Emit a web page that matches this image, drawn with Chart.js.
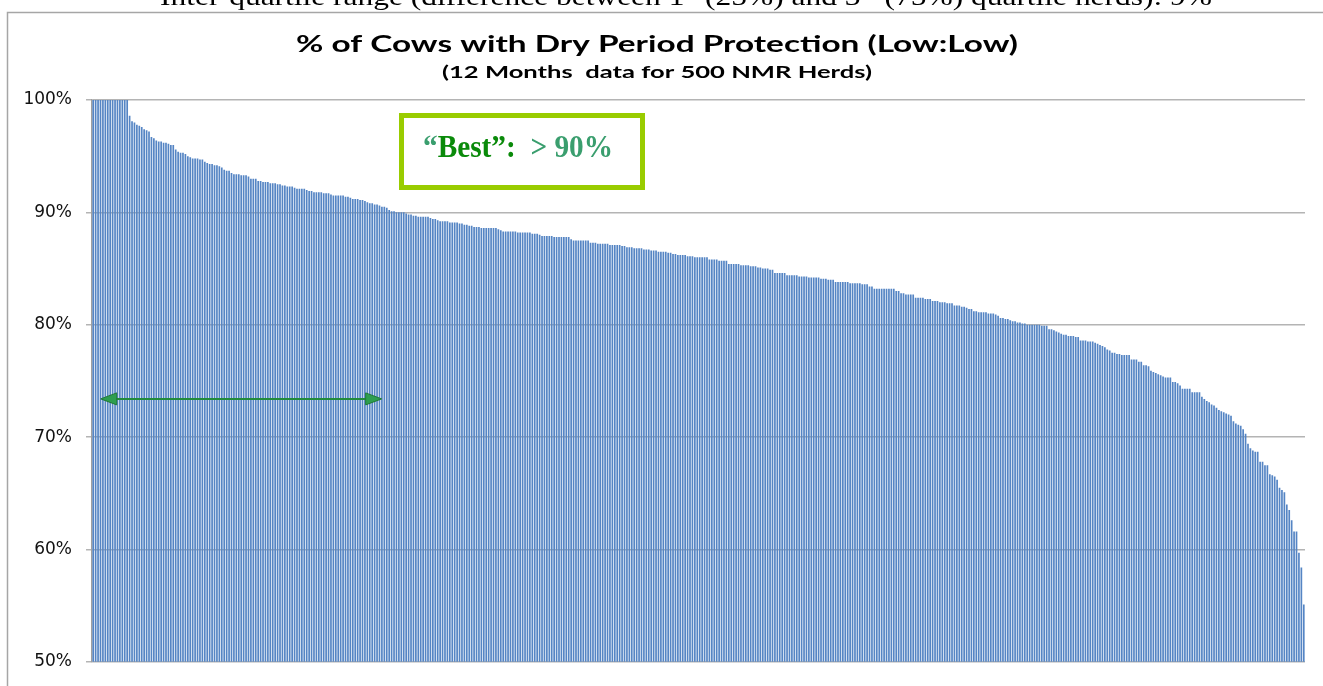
<!DOCTYPE html>
<html>
<head>
<meta charset="utf-8">
<script src="https://cdn.jsdelivr.net/npm/chart.js@4.4.1/dist/chart.umd.min.js"></script>
<style>
  html, body { margin: 0; padding: 0; background: #fff; }
  #wrap { width: 1323px; height: 686px; }
</style>
</head>
<body>
<div id="wrap"><canvas id="herdCanvas" width="1323" height="686"></canvas></div>
<script>
// text
const topNote = [
  { t: "Inter-quartile range (difference between 1" },
  { t: "st", sup: true },
  { t: " (25%) and 3" },
  { t: "rd", sup: true },
  { t: " (75%) quartile herds): 9%" }
];
const chartTitle = "% of Cows with Dry Period Protection (Low:Low)";
const chartSubtitle = "(12 Months  data for 500 NMR Herds)";
const bestQuote = "\u201CBest\u201D:";
const bestValue = "  > 90%";

// y axis
const yTickValues = [50, 60, 70, 80, 90, 100];
const yTickLabels = ["50%", "60%", "70%", "80%", "90%", "100%"];

// % of cows with dry period protection, herds sorted high -> low
const protectionPct = [
  100,100,100,100,100,100,100,100,100,100,
  100,100,100,100,100,98.6,98.1,98.0,97.8,97.7,
  97.6,97.4,97.3,97.2,96.7,96.6,96.4,96.3,96.3,96.2,
  96.2,96.1,96.0,96.0,95.6,95.4,95.3,95.3,95.2,95.0,
  94.9,94.8,94.8,94.8,94.7,94.7,94.5,94.4,94.3,94.3,
  94.2,94.2,94.1,94.0,93.8,93.7,93.7,93.5,93.4,93.4,
  93.4,93.3,93.3,93.3,93.2,93.0,93.0,93.0,92.8,92.8,
  92.7,92.7,92.7,92.6,92.6,92.6,92.5,92.5,92.4,92.4,
  92.3,92.3,92.3,92.2,92.1,92.1,92.1,92.1,92.0,91.9,
  91.9,91.8,91.8,91.8,91.8,91.7,91.7,91.7,91.6,91.5,
  91.5,91.5,91.5,91.5,91.4,91.4,91.3,91.2,91.2,91.2,
  91.1,91.1,91.0,90.9,90.8,90.8,90.7,90.7,90.6,90.5,
  90.5,90.4,90.2,90.1,90.1,90.0,90.0,90.0,90.0,89.9,
  89.8,89.8,89.7,89.7,89.6,89.6,89.6,89.6,89.6,89.5,
  89.4,89.4,89.3,89.2,89.2,89.2,89.2,89.1,89.1,89.1,
  89.1,89.0,89.0,88.9,88.9,88.8,88.8,88.7,88.7,88.7,
  88.6,88.6,88.6,88.6,88.6,88.6,88.6,88.5,88.4,88.3,
  88.3,88.3,88.3,88.3,88.3,88.2,88.2,88.2,88.2,88.2,
  88.2,88.1,88.1,88.1,88.0,87.9,87.9,87.9,87.9,87.9,
  87.8,87.8,87.8,87.8,87.8,87.8,87.8,87.6,87.5,87.5,
  87.5,87.5,87.5,87.5,87.5,87.3,87.3,87.3,87.2,87.2,
  87.2,87.2,87.2,87.1,87.1,87.1,87.1,87.1,87.0,87.0,
  86.9,86.9,86.9,86.8,86.8,86.8,86.8,86.7,86.7,86.7,
  86.6,86.6,86.6,86.5,86.5,86.5,86.5,86.4,86.4,86.3,
  86.3,86.2,86.2,86.2,86.2,86.1,86.1,86.1,86.0,86.0,
  86.0,86.0,86.0,86.0,85.8,85.8,85.8,85.8,85.7,85.7,
  85.7,85.7,85.4,85.4,85.4,85.4,85.4,85.3,85.3,85.3,
  85.3,85.2,85.2,85.2,85.1,85.1,85.0,85.0,85.0,84.9,
  84.9,84.6,84.6,84.6,84.6,84.6,84.4,84.4,84.4,84.4,
  84.4,84.3,84.3,84.3,84.3,84.2,84.2,84.2,84.2,84.2,
  84.1,84.1,84.1,84.0,84.0,84.0,83.8,83.8,83.8,83.8,
  83.8,83.8,83.7,83.7,83.7,83.7,83.7,83.6,83.6,83.6,
  83.4,83.4,83.2,83.2,83.2,83.2,83.2,83.2,83.2,83.2,
  83.2,83.0,83.0,82.8,82.8,82.7,82.7,82.7,82.7,82.4,
  82.4,82.4,82.4,82.3,82.3,82.3,82.1,82.1,82.1,82.0,
  82.0,82.0,81.9,81.9,81.9,81.7,81.7,81.7,81.6,81.6,
  81.5,81.4,81.4,81.2,81.2,81.1,81.1,81.1,81.1,81.0,
  81.0,81.0,80.9,80.8,80.6,80.6,80.5,80.5,80.4,80.3,
  80.3,80.2,80.2,80.1,80.1,80.0,80.0,80.0,80.0,80.0,
  80.0,79.9,79.9,79.9,79.6,79.6,79.5,79.4,79.3,79.2,
  79.1,79.1,79.0,79.0,79.0,78.9,78.9,78.6,78.6,78.6,
  78.5,78.5,78.5,78.4,78.3,78.2,78.1,78.0,77.8,77.7,
  77.5,77.5,77.4,77.4,77.3,77.3,77.3,77.3,76.9,76.9,
  76.9,76.7,76.7,76.4,76.4,76.3,75.9,75.8,75.7,75.6,
  75.5,75.4,75.3,75.3,75.3,74.9,74.9,74.8,74.6,74.3,
  74.3,74.3,74.3,74.0,74.0,74.0,74.0,73.6,73.4,73.2,
  73.1,72.9,72.8,72.6,72.4,72.3,72.2,72.1,72.0,71.9,
  71.4,71.2,71.1,71.0,70.7,70.3,69.4,69.0,68.8,68.7,
  68.7,67.8,67.8,67.5,67.5,66.7,66.6,66.5,66.2,65.5,
  65.3,65.1,64.0,63.5,62.6,61.6,61.6,59.7,58.4,55.1
];
const herdRank = protectionPct.map((v, i) => String(i + 1));

// draw a row of text pieces, squeezed/stretched to a given width
function drawRuns(ctx, runs, x, y, targetW, align)
{
  let total = 0;
  runs.forEach(r => { ctx.font = r.font; r.w = ctx.measureText(r.t).width; total += r.w; });
  const sx = targetW ? targetW / total : 1;
  ctx.save();
  ctx.translate(x, y);
  ctx.scale(sx, 1);
  let cx = align === "center" ? -total / 2 : 0;
  ctx.textAlign = "left";
  ctx.textBaseline = "alphabetic";
  runs.forEach(r => {
    ctx.font = r.font;
    ctx.fillStyle = r.color || "#000";
    ctx.fillText(r.t, cx, r.dy || 0);
    cx += r.w;
  });
  ctx.restore();
}

const decor = {
  id: "decor",
  beforeDraw(chart) {
    const ctx = chart.ctx;
    ctx.save();
    ctx.fillStyle = "#fff";
    ctx.fillRect(0, 0, chart.width, chart.height);
    // top note, cut by the page edge
    drawRuns(ctx, topNote.map(p => ({
      t: p.t,
      font: p.sup ? "16px 'Liberation Serif'" : "26px 'Liberation Serif'",
      dy: p.sup ? -10 : 0
    })), 160, 5, 1052, "left");
    // chart frame
    ctx.strokeStyle = "#a6a6a6";
    ctx.lineWidth = 1.5;
    ctx.strokeRect(7.5, 12.5, 1340, 700);
    // title
    drawRuns(ctx, [{ t: chartTitle, font: "bold 23px Lato" }], 657, 52, 722, "center");
    drawRuns(ctx, [{ t: chartSubtitle, font: "bold 17px Lato" }], 657, 78, 430, "center");
    ctx.restore();
  },
  afterDatasetsDraw(chart) {
    const ctx = chart.ctx;
    const xs = chart.scales.x, ys = chart.scales.y;
    ctx.save();
    // "Best" box
    ctx.strokeStyle = "#99cc00";
    ctx.lineWidth = 5;
    ctx.strokeRect(401.5, 115.5, 241, 72);
    drawRuns(ctx, [
      { t: "\u201C", font: "bold 31px 'Liberation Serif'", color: "#3a9e6e" },
      { t: "Best\u201D:", font: "bold 31px 'Liberation Serif'", color: "#0a8a0a" },
      { t: bestValue, font: "bold 31px 'Liberation Serif'", color: "#3a9e6e" }
    ], 423, 157, 190, "left");

    // double arrow across the top quarter of herds
    const x1 = xs.getPixelForValue(3.1), x2 = xs.getPixelForValue(118.9);
    const ay = ys.getPixelForValue(73.4);
    const hl = 16, hw = 6;
    ctx.strokeStyle = "#228b3c";
    ctx.lineWidth = 2;
    ctx.beginPath();
    ctx.moveTo(x1 + hl - 2, ay);
    ctx.lineTo(x2 - hl + 2, ay);
    ctx.stroke();
    ctx.fillStyle = "#2e9e50";
    ctx.lineWidth = 1;
    ctx.strokeStyle = "#1f7a35";
    [[x1, 1], [x2, -1]].forEach(([tx, d]) => {
      ctx.beginPath();
      ctx.moveTo(tx, ay);
      ctx.lineTo(tx + d * hl, ay - hw);
      ctx.lineTo(tx + d * hl, ay + hw);
      ctx.closePath();
      ctx.fill();
      ctx.stroke();
    });
    ctx.restore();
  }
};

new Chart(document.getElementById("herdCanvas"), {
  type: "bar",
  data: {
    labels: herdRank,
    datasets: [{
      data: protectionPct,
      backgroundColor: "#5585c4",
      borderWidth: 0,
      barPercentage: 0.7,
      categoryPercentage: 1.0
    }]
  },
  options: {
    responsive: false,
    animation: false,
    layout: { padding: { top: 100, right: 18, bottom: 7, left: 0 } },
    plugins: { legend: { display: false }, tooltip: { enabled: false }, title: { display: false } },
    scales: {
      x: { display: false },
      y: {
        min: 50,
        max: 100,
        afterFit(scale) { scale.width = 92; },
        afterBuildTicks(scale) { scale.ticks = yTickValues.map(v => ({ value: v })); },
        ticks: {
          padding: 14,
          color: "#111",
          font: { family: "'DejaVu Sans'", size: 17 },
          callback: (v) => yTickLabels[yTickValues.indexOf(v)]
        },
        grid: { color: "#b4b4b4", lineWidth: 1.5, tickLength: 6 },
        border: { color: "#a0a0a0", width: 1.5 }
      }
    }
  },
  plugins: [decor]
});
</script>
</body>
</html>
